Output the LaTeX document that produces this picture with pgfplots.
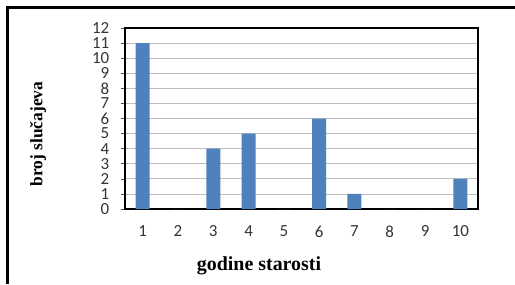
\documentclass[border=0pt]{standalone}
\usepackage{fontspec}
\setmainfont{Liberation Serif}
\newfontfamily\calibri{Carlito}
\usepackage{pgfplots}
\pgfplotsset{compat=1.18}
\definecolor{barblue}{HTML}{4F81BD}
\definecolor{gridgray}{HTML}{BEBEBE}
\begin{document}
\begin{tikzpicture}[x=1bp,y=1bp]
\useasboundingbox (0,0) rectangle (515,-284);
\draw[line width=3bp,black] (7,-284) -- (7,-7) -- (515,-7);
\begin{axis}[
  at={(125bp,-209bp)}, anchor=south west,
  scale only axis, width=353bp, height=181bp,
  xmin=0.5, xmax=10.5, ymin=0, ymax=12,
  ytick={0,1,...,12},
  xtick={1,...,10},
  ytick pos=left, xtick pos=bottom,
  extra x ticks={0.5,1.5,...,10.5},
  extra x tick labels={},
  extra x tick style={major tick length=6bp, tick style={black!70, line width=0.6bp}, grid=none},
  major x tick style={draw=none},
  ymajorgrids, grid style={gridgray, line width=0.8bp},
  axis line style={line width=2bp, black},
  ytick style={black!70, line width=0.6bp},
  tick align=outside, major tick length=4bp,
  ticklabel style={font=\calibri\fontsize{17}{18}\selectfont, text=black!80, inner sep=0.5bp},
  /pgf/number format/assume math mode=true,
  yticklabel style={xshift=-11bp},
  xticklabel style={yshift=-12bp},
  bar width=14bp,
]
\addplot[ybar, fill=barblue, draw=none] coordinates {
(1,11) (2,0) (3,4) (4,5) (5,0) (6,6) (7,1) (8,0) (9,0) (10,2)
};
\end{axis}
\node[font=\bfseries\fontsize{20}{22}\selectfont] at (259,-266) {godine starosti};
\node[font=\bfseries\fontsize{17.5}{19}\selectfont, rotate=90] at (38,-134) {broj slučajeva};
\end{tikzpicture}
\end{document}
